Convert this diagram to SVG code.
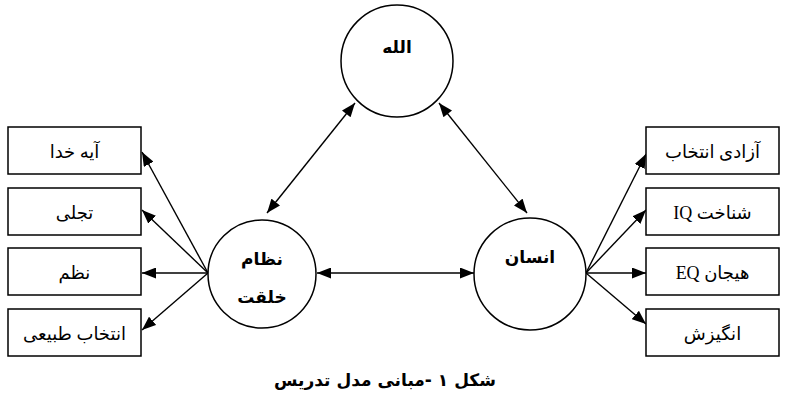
<svg xmlns="http://www.w3.org/2000/svg" width="789" height="407" viewBox="0 0 789 407">
<style>
.node{fill:#fff;stroke:#000;stroke-width:1.5}
.box{fill:#fff;stroke:#000;stroke-width:1.5}
.lbl{font-family:"Liberation Serif","DejaVu Sans",serif;font-size:18px;text-anchor:middle;direction:rtl}
.big{font-family:"DejaVu Sans",sans-serif;font-size:17px;font-weight:bold;text-anchor:middle;direction:rtl}
.edge{stroke:#000;stroke-width:1.4;fill:none;marker-end:url(#ah)}
.dbl{marker-start:url(#ahs)}
</style>
<defs>
<marker id="ah" markerWidth="15" markerHeight="11" refX="14" refY="5.5" orient="auto" markerUnits="userSpaceOnUse">
<path d="M0,0 L14,5.5 L0,11 Z" fill="#000"/>
</marker>
<marker id="ahs" markerWidth="15" markerHeight="11" refX="0" refY="5.5" orient="auto" markerUnits="userSpaceOnUse">
<path d="M14,0 L0,5.5 L14,11 Z" fill="#000"/>
</marker>
</defs>
<rect width="789" height="407" fill="#fff"/>
<g id="connectors">
<line class="edge dbl" x1="355" y1="103" x2="267" y2="213"/>
<line class="edge dbl" x1="439" y1="103" x2="527" y2="213"/>
<line class="edge dbl" x1="317" y1="273" x2="474" y2="273"/>
<line class="edge" x1="208" y1="273" x2="142" y2="152"/>
<line class="edge" x1="208" y1="273" x2="142" y2="210"/>
<line class="edge" x1="208" y1="273" x2="142" y2="273"/>
<line class="edge" x1="208" y1="273" x2="142" y2="330"/>
<line class="edge" x1="586" y1="273" x2="646" y2="154"/>
<line class="edge" x1="586" y1="273" x2="646" y2="210"/>
<line class="edge" x1="586" y1="273" x2="646" y2="273"/>
<line class="edge" x1="586" y1="273" x2="646" y2="324"/>
</g>
<g id="allah"><circle class="node" cx="397" cy="61" r="56"/><text class="big" x="397" y="53">الله</text></g>
<g id="nezam"><circle class="node" cx="262" cy="274" r="54"/><text class="big" x="262" y="265">نظام</text><text class="big" x="262" y="303">خلقت</text></g>
<g id="ensan"><circle class="node" cx="530" cy="274" r="56"/><text class="big" x="530" y="263">انسان</text></g>
<g id="l1"><rect class="box" x="8" y="127" width="133" height="47"/><text class="lbl" x="74.5" y="158">آیه خدا</text></g>
<g id="l2"><rect class="box" x="8" y="188" width="133" height="47"/><text class="lbl" x="74.5" y="219">تجلی</text></g>
<g id="l3"><rect class="box" x="8" y="248" width="133" height="47"/><text class="lbl" x="74.5" y="279">نظم</text></g>
<g id="l4"><rect class="box" x="8" y="309" width="133" height="47"/><text class="lbl" x="74.5" y="340">انتخاب طبیعی</text></g>
<g id="r1"><rect class="box" x="646" y="127" width="133" height="47"/><text class="lbl" x="712.5" y="158">آزادی انتخاب</text></g>
<g id="r2"><rect class="box" x="646" y="188" width="133" height="47"/><text class="lbl" x="712.5" y="219">شناخت IQ</text></g>
<g id="r3"><rect class="box" x="646" y="248" width="133" height="47"/><text class="lbl" x="712.5" y="279">هیجان EQ</text></g>
<g id="r4"><rect class="box" x="646" y="309" width="133" height="47"/><text class="lbl" x="712.5" y="340">انگیزش</text></g>
<text class="big" x="385" y="386">شکل ۱ -مبانی مدل تدریس</text>
</svg>
